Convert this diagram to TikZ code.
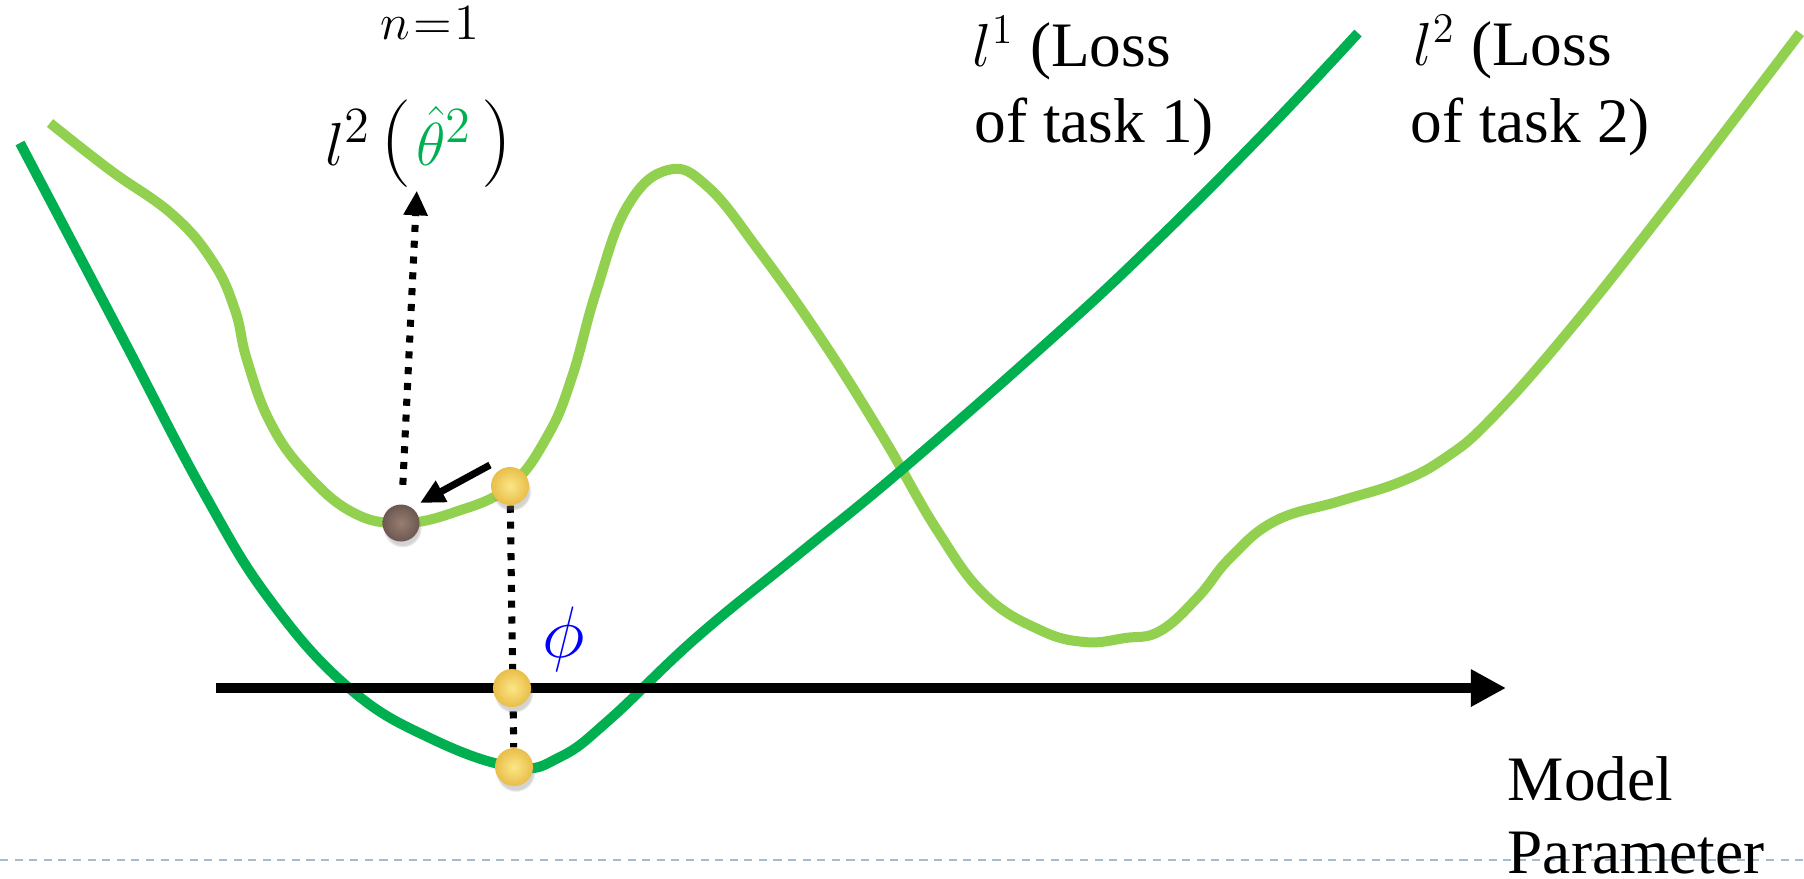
\documentclass[tikz,border=0pt]{standalone}
\usepackage{fontspec}
\setmainfont{Liberation Serif}
\usetikzlibrary{arrows.meta,calc,shadows}
\definecolor{dgreen}{RGB}{0,176,80}
\definecolor{lgreen}{RGB}{146,208,80}
\definecolor{sepblue}{RGB}{167,186,206}
\definecolor{phiblue}{RGB}{0,0,255}
\definecolor{yin}{RGB}{252,230,135}
\definecolor{yout}{RGB}{232,190,72}
\definecolor{bin}{RGB}{152,126,114}
\definecolor{bout}{RGB}{108,88,80}
\pgfdeclarelayer{bg}
\pgfsetlayers{bg,main}
\newcommand{\bigparen}[1]{{\fontsize{26}{28}\selectfont$#1$}}
\begin{document}
\begin{tikzpicture}[x=0.01cm,y=-0.01cm,
  lossone/.style={draw=dgreen,line width=2.85pt,line join=round},
  losstwo/.style={draw=lgreen,line width=2.85pt,line join=round},
  axisline/.style={line width=3.1pt,-{Triangle[length=10pt,width=10pt]}},
  dotline/.style={line width=2pt,dash pattern=on 2pt off 2.5pt},
  dotarrow/.style={dotline,-{Triangle[length=7pt,width=6.5pt]}},
  movearrow/.style={line width=2pt,-{Triangle[length=7pt,width=6.5pt]}},
  ydot/.style={circle,inner sep=0pt,minimum size=0.38cm,shade,inner color=yin,outer color=yout,
    circular drop shadow={shadow xshift=0.4pt,shadow yshift=-1.4pt,opacity=0.35,shadow scale=1.05}},
  bdot/.style={circle,inner sep=0pt,minimum size=0.37cm,shade,inner color=bin,outer color=bout,
    circular drop shadow={shadow xshift=0.4pt,shadow yshift=-1.4pt,opacity=0.35,shadow scale=1.05}},
  lbl/.style={inner sep=0pt},
  bigtext/.style={inner sep=0pt,font=\fontsize{18}{22}\selectfont},
  sepline/.style={draw=sepblue,line width=0.77pt,dash pattern=on 2.3pt off 1.85pt}
]
\useasboundingbox (0,0) rectangle (1804,878);

% dots
\node[ydot] (y1) at (510,486) {};
\node[ydot] (y2) at (512,688) {};
\node[ydot] (y3) at (514,767) {};
\node[bdot] (b) at (401,523) {};

% labels
\node[lbl,anchor=base,font=\fontsize{15}{17}\selectfont] (nlab) at (430,39) {$n\mskip1mu{=}\mskip1mu1$};
\node[lbl,anchor=base,font=\fontsize{19}{22}\selectfont] (lab) at (419,165)
  {$l^{2}$\kern2.5pt\bigparen{(}\kern1.5pt$\textcolor{dgreen}{\hat{\theta}^{2}}$\kern2.5pt\bigparen{)}};
\node[lbl,font=\fontsize{21}{24}\selectfont,text=phiblue] (phi) at (564,639) {$\phi$};
\node[bigtext,anchor=base west] (l1a) at (972,66) {$l^{1}$ (Loss};
\node[bigtext,anchor=base west] (l1b) at (974,142) {of task 1)};
\node[bigtext,anchor=base west] (l2a) at (1413,65) {$l^{2}$ (Loss};
\node[bigtext,anchor=base west] (l2b) at (1410,142) {of task 2)};

\coordinate (ax0) at (216,688);
\coordinate (ax1) at (1506,688);
\coordinate (s0) at (0,860);
\coordinate (s1) at (1804,860);

\begin{pgfonlayer}{bg}
\draw[sepline] (s0) -- (s1);
\draw[losstwo] plot[smooth,tension=0.7] coordinates {
 (50,123) (110,170) (173,215) (213,262) (235,310) (247,360) (270,422) (305,472)
 (352,512) (401,523) (455,512) (510,486) (548,435) (572,377) (596,292) (627,207)
 (668,170) (708,187) (760,252) (822,340) (883,437) (937,530) (985,595)
 (1040,630) (1085,642) (1125,638) (1160,631) (1198,597) (1230,558)
 (1275,521) (1340,501) (1400,482) (1445,458) (1490,420) (1567,333)
 (1667,207) (1800,33)};
\draw[lossone] plot[smooth,tension=0.7] coordinates {
 (20,143) (120,333) (204,493) (270,600) (349,688) (430,738) (514,767)
 (560,757) (609,720) (697,637) (800,553) (898,473) (1050,340) (1150,247)
 (1265,132) (1358,33)};
\draw[axisline] (ax0) -- (ax1);
\draw[dotline] (y1) -- (y3);
\draw[dotarrow,shorten <=0.19cm,shorten >=0.9pt] (b) -- (lab);
\draw[movearrow] ($(y1)+(-20,-21)$) -- ($(b)+(19,-20)$);
\end{pgfonlayer}

\node[bigtext,anchor=base west] (m1) at (1507,800) {Model};
\node[bigtext,anchor=base west] (m2) at (1507,873) {Parameter};
\end{tikzpicture}
\end{document}
